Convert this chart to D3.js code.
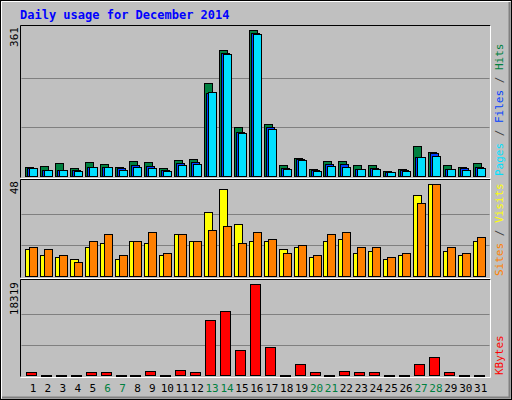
<!DOCTYPE html><html><head><script src="https://cdn.jsdelivr.net/npm/d3@7"></script>
<style>body{margin:0}svg{display:block}</style></head><body><script>
const days=d3.range(1,32);
const weekends=[6,7,13,14,20,21,27,28];
const hits=[23,25,33,20,35,30,23,38,35,20,40,43,229,310,121,361,129,28,45,18,38,38,28,28,13,18,75,60,28,23,33];
const files=[19,16,14,16,23,23,19,28,25,16,33,35,205,303,108,353,121,20,41,16,30,30,18,20,11,16,47,57,18,20,23];
const pages=[19,16,16,13,23,23,16,23,20,13,28,30,207,300,106,349,116,18,40,13,25,23,18,18,11,13,48,50,18,16,20];
const visits=[14,11,10,9,15,17,9,18,17,11,22,18,33,45,27,18,18,14,15,10,18,19,12,13,9,11,42,48,13,11,18];
const sites=[15,14,11,7.5,18,22,11,18,23,12,22,18,24,26,17,23,19,12,16,11,22,23,15,15,10,12,38,48,15,12,20];
const kbytes=[535,100,100,100,535,535,100,100,735,100,936,535,11100,12910,5080,18319,5690,100,2140,535,100,735,535,535,100,100,2140,3680,535,100,100];
const maxLabels=["361","48","18319"];
const W=512,H=400;
const svg=d3.select("body").append("svg").attr("width",W).attr("height",H).style("font-family","DejaVu Sans Mono, monospace");
svg.append("rect").attr("x",0).attr("y",0).attr("width",W).attr("height",H).attr("fill","#c0c0c0");
svg.append("rect").attr("x",0.5).attr("y",0.5).attr("width",W-1).attr("height",H-1).attr("fill","none").attr("stroke","#000");
svg.append("path").attr("d","M1.5,398.5V1.5H510.5").attr("fill","none").attr("stroke","#fff");
svg.append("path").attr("d","M2,397.5H509.5V2").attr("fill","none").attr("stroke","#808080").attr("stroke-width",2);
svg.append("text").attr("x",20).attr("y",19).attr("fill","#0000ff").attr("font-size",12).attr("font-weight","bold").text("Daily usage for December 2014");
const x=d3.scaleLinear().domain([1,31]).range([33,480.7]);
const L=20.5,R=490.5;
function panel(top,bot,max){
  svg.append("path").attr("d",`M${L},${bot}V${top}H${R}`).attr("fill","none").attr("stroke","#000");
  svg.append("path").attr("d",`M${L},${bot+1}H${R}V${top}`).attr("fill","none").attr("stroke","#fff");
  const y=d3.scaleLinear().domain([0,max]).range([bot-1.5,top+4]);
  [1/3,2/3].forEach(f=>svg.append("line").attr("x1",L+1).attr("x2",R-1).attr("y1",Math.round(y(max*f))+0.5).attr("y2",Math.round(y(max*f))+0.5).attr("stroke","#808080"));
  return y;
}
function bars(y,data,off,w,color){
  svg.append("g").selectAll("rect").data(data).join("rect")
   .attr("x",(d,i)=>Math.round(x(days[i]))-8+off+0.5).attr("width",w)
   .attr("y",d=>Math.round(y(d))+0.5).attr("height",d=>Math.max(1,y(0)-Math.round(y(d))))
   .attr("fill",color).attr("stroke","#000");
}
const y1=panel(25.5,177.5,361);
bars(y1,hits,0,8,"#008040");bars(y1,files,2,8,"#0040ff");bars(y1,pages,4,8,"#00e0ff");
const y2=panel(179.5,277.5,48);
bars(y2,visits,0,8,"#ffff00");bars(y2,sites,4,8,"#ff8000");
const y3=panel(279.5,376.5,18319);
bars(y3,kbytes,1,10,"#ff0000");
svg.append("g").selectAll("text").data(days).join("text").attr("x",d=>x(d)).attr("y",392).attr("text-anchor","middle")
 .attr("font-size",11).attr("fill",d=>weekends.includes(d)?"#008040":"#000").text(d=>d);
[[27,maxLabels[0]],[181,maxLabels[1]],[282,maxLabels[2]]].forEach(([yy,t])=>
 svg.append("text").attr("transform",`translate(18,${yy}) rotate(-90)`).attr("text-anchor","end").attr("font-size",11).attr("fill","#000").text(t));
function side(y0,parts){
 const t=svg.append("text").attr("transform",`translate(503,${y0}) rotate(-90)`).attr("font-size",11);
 parts.forEach(([s,c])=>t.append("tspan").attr("fill",c).text(s));
}
side(176,[["Pages","#00e0ff"],[" / ","#404040"],["Files","#0040ff"],[" / ","#404040"],["Hits","#008040"]]);
side(276,[["Sites","#ff8000"],[" / ","#404040"],["Visits","#ffff00"]]);
side(375,[["KBytes","#ff0000"]]);
</script></body></html>
